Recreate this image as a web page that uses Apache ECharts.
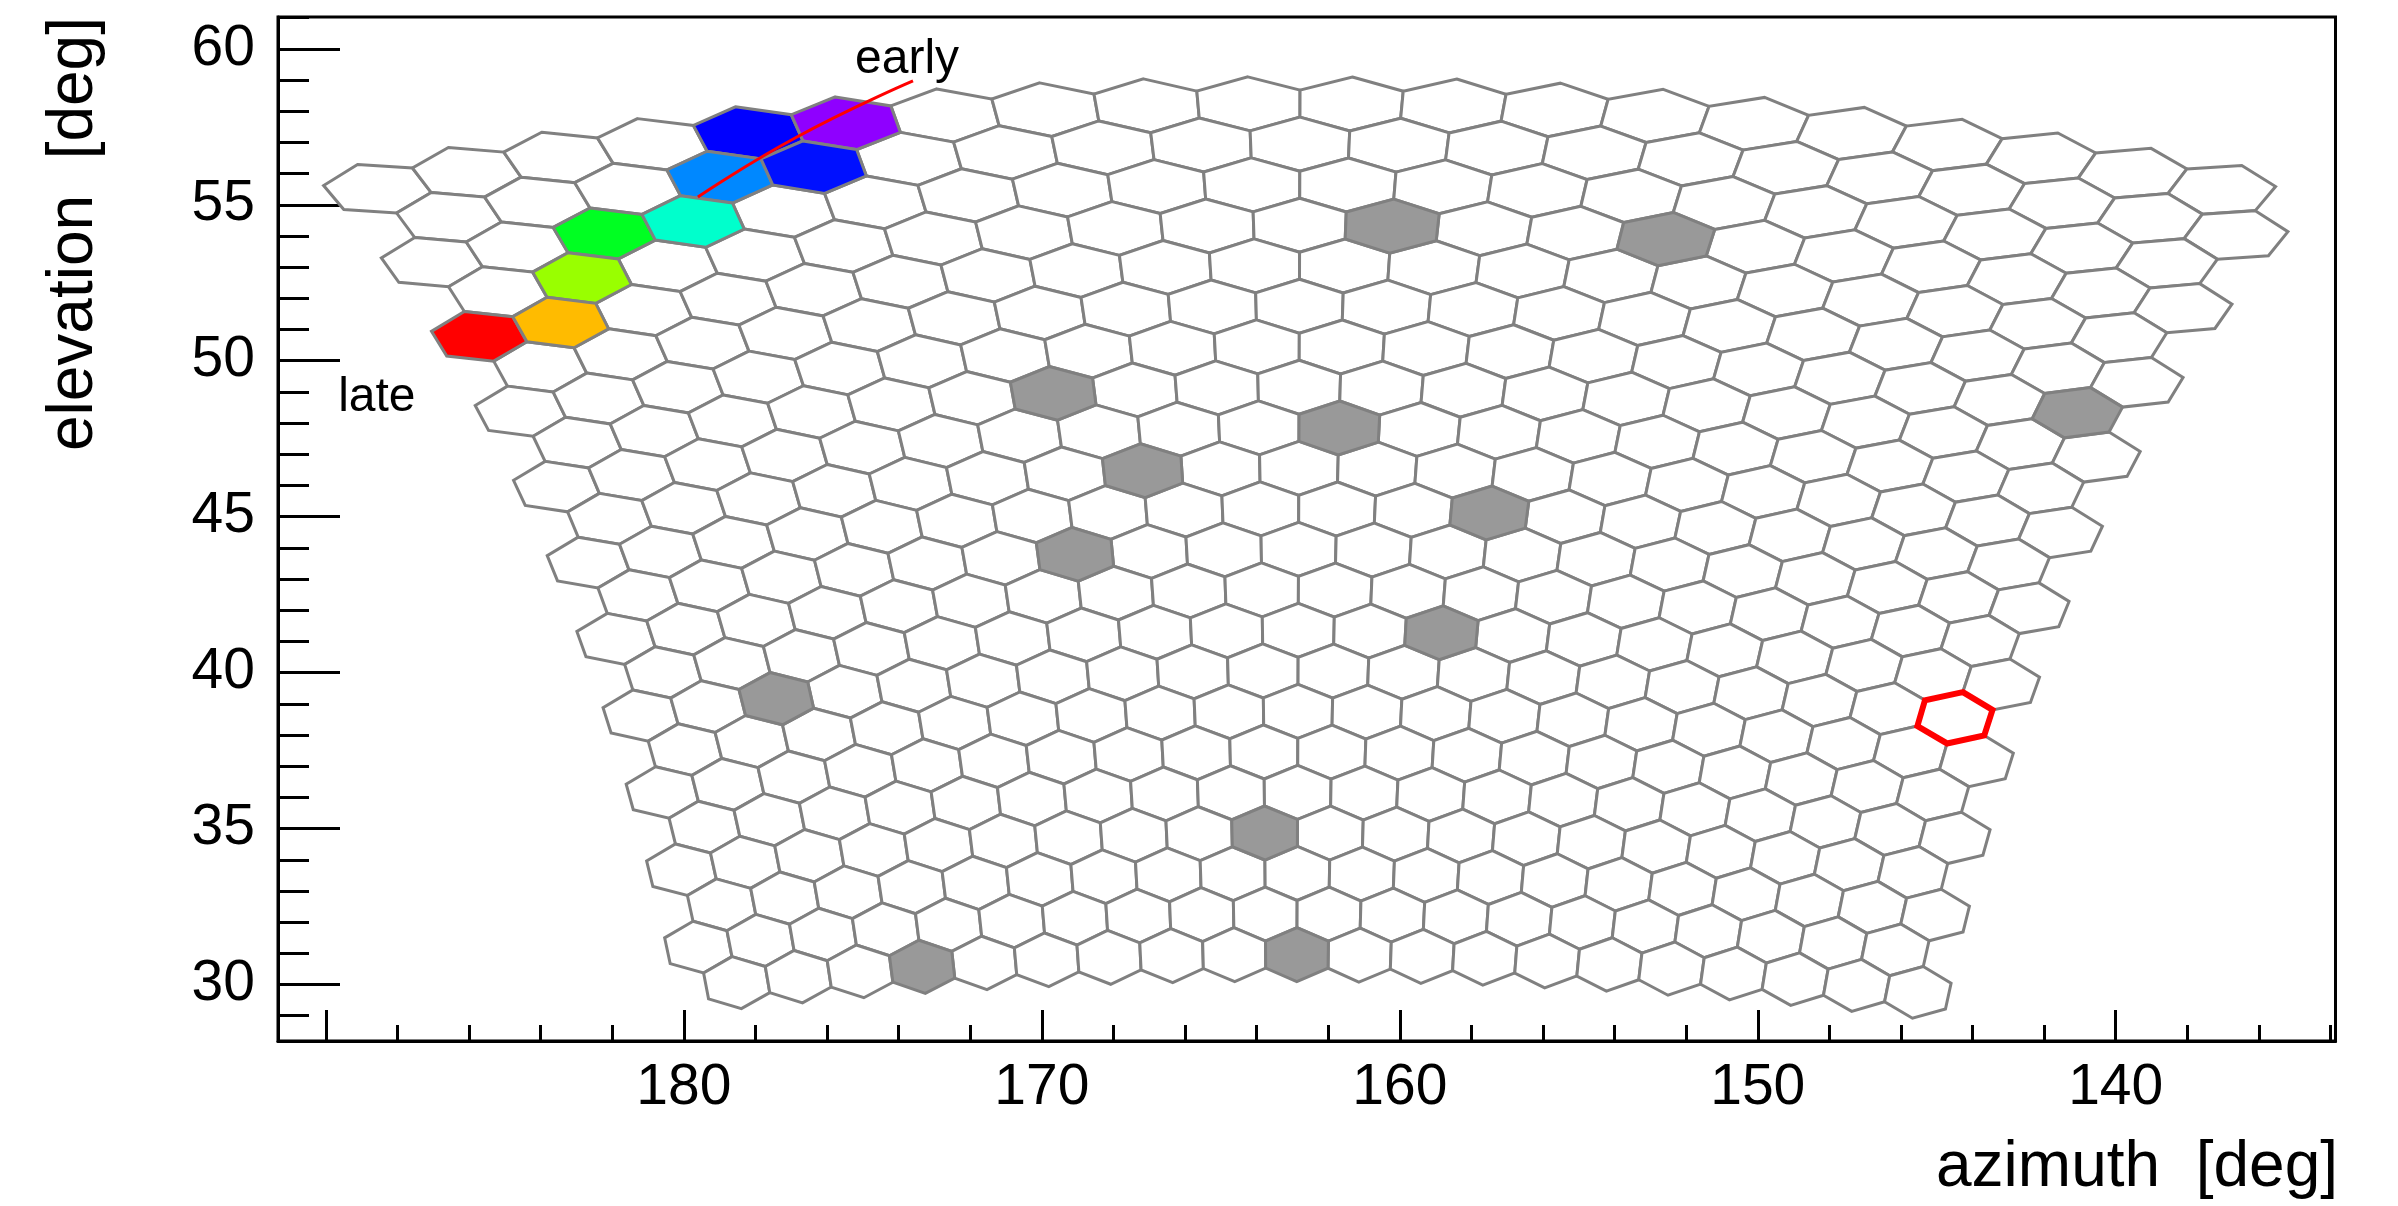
<!DOCTYPE html>
<html>
<head>
<meta charset="utf-8">
<script src="https://cdn.jsdelivr.net/npm/echarts@6/dist/echarts.min.js"></script>
<style>
html,body{margin:0;padding:0;background:#ffffff;}
#chart{width:2398px;height:1206px;}
</style>
</head>
<body>
<div id="chart"></div>
<script>
// ---------------- data ----------------
const CAMERA_ROWS = 22;
const CAMERA_COLS = 20;
// camera pointing / pixel pitch (deg) as fitted to the picture
const cameraAzimuth = 162.3;
const cameraElevation = 44.6;
const cameraRoll = 0.5;
const pixelPitch = 1.5;

// pixels flagged as bad (grey), [row, column], row 0 = top row
const badPixels = [[3,10],[3,13],[6,19],[7,6],[8,10],[9,7],[10,12],[11,6],[13,11],[14,2],[18,9],[21,3],[21,9]];
// triggered pixels in time order (early -> late), [row, column, colour]
const pulsePixels = [
  [0,5,'#8f00ff'],
  [0,4,'#0000ff'],
  [1,4,'#0010ff'],
  [1,3,'#0088ff'],
  [2,3,'#00ffcc'],
  [2,2,'#00ff22'],
  [3,1,'#99ff00'],
  [4,1,'#ffbb00'],
  [4,0,'#ff0000']
];
// pixel outlined in red
const markedPixels = [[14,19]];

// reconstructed track (azimuth, elevation)
const trackAz = [179.61, 176.83, 173.60];
const trackEl = [55.25, 57.18, 58.97];

// annotation texts (left / baseline anchor in azimuth, elevation)
const noteTexts = ['early', 'late'];
const noteAz = [175.22, 189.66];
const noteEl = [59.16, 48.32];

// axes
const xRange = [133.86, 191.34];
const yRange = [28.19, 61.02];
const xMajorTicks = [140,150,160,170,180,190];
const xTickLabels = [140,150,160,170,180];
const xMinorTicks = [134,136,138,140,142,144,146,148,150,152,154,156,158,160,162,164,166,168,170,172,174,176,178,180,182,184,186,188,190];
const yMajorTicks = [30,35,40,45,50,55,60];
const yTickLabels = [30,35,40,45,50,55,60];
const yMinorTicks = [29,30,31,32,33,34,35,36,37,38,39,40,41,42,43,44,45,46,47,48,49,50,51,52,53,54,55,56,57,58,59,60,61];
const xTitle = 'azimuth  [deg]';
const yTitle = 'elevation  [deg]';

// ---------------- geometry ----------------
const D2R = Math.PI / 180;
const FONT = "'Liberation Sans', Arial, Helvetica, sans-serif";
const HEX_R = pixelPitch / Math.sqrt(3);

function cameraToSky(u, v) {
  const ur = u * D2R, vr = v * D2R;
  const x = Math.cos(ur) * Math.cos(vr);
  const y = Math.sin(ur);
  const z = Math.cos(ur) * Math.sin(vr);
  const r = cameraRoll * D2R;
  const y2 = y * Math.cos(r) + z * Math.sin(r);
  const z2 = z * Math.cos(r) - y * Math.sin(r);
  const e = cameraElevation * D2R;
  const X = x * Math.cos(e) - z2 * Math.sin(e);
  const Z = x * Math.sin(e) + z2 * Math.cos(e);
  return [cameraAzimuth - Math.atan2(y2, X) / D2R, Math.asin(Z) / D2R];
}
function pixelCenterUV(r, c) {
  const v = ((CAMERA_ROWS - 1) / 2 - r) * pixelPitch * Math.sqrt(3) / 2;
  const u = (c - (CAMERA_COLS - 1) / 2) * pixelPitch + (r % 2 === 0 ? -pixelPitch / 4 : pixelPitch / 4);
  return [u, v];
}
function hexPoints(api, r, c) {
  const uv = pixelCenterUV(r, c);
  const pts = [];
  for (let k = 0; k < 6; k++) {
    const t = k * Math.PI / 3;
    pts.push(api.coord(cameraToSky(uv[0] + HEX_R * Math.sin(t), uv[1] + HEX_R * Math.cos(t))));
  }
  return pts;
}

const fillOf = {};
badPixels.forEach(p => { fillOf[p[0] + ',' + p[1]] = '#999999'; });
pulsePixels.forEach(p => { fillOf[p[0] + ',' + p[1]] = p[2]; });

const plainData = [], flaggedData = [];
for (let r = 0; r < CAMERA_ROWS; r++) {
  for (let c = 0; c < CAMERA_COLS; c++) {
    const uv = pixelCenterUV(r, c);
    const s = cameraToSky(uv[0], uv[1]);
    (fillOf[r + ',' + c] ? flaggedData : plainData).push([s[0], s[1], r, c]);
  }
}
const markedData = markedPixels.map(p => {
  const uv = pixelCenterUV(p[0], p[1]);
  const s = cameraToSky(uv[0], uv[1]);
  return [s[0], s[1], p[0], p[1]];
});

function pixelRenderer(params, api) {
  const r = api.value(2), c = api.value(3);
  return {
    type: 'polygon',
    shape: { points: hexPoints(api, r, c) },
    style: { fill: fillOf[r + ',' + c] || '#ffffff', stroke: '#808080', lineWidth: 3, lineJoin: 'miter' }
  };
}

const chart = echarts.init(document.getElementById('chart'), null, { renderer: 'canvas' });

const axisCommon = {
  type: 'value',
  splitLine: { show: false }
};

chart.setOption({
  backgroundColor: '#ffffff',
  animation: false,
  grid: { left: 278, right: 62.5, top: 17, bottom: 165, show: true, borderColor: '#000000', borderWidth: 3, backgroundColor: 'transparent' },
  xAxis: [
    Object.assign({}, axisCommon, {
      inverse: true, min: xRange[0], max: xRange[1], position: 'bottom',
      axisLine: { show: true, onZero: false, lineStyle: { color: '#000', width: 3 } },
      axisTick: { show: true, inside: true, length: 31, customValues: xMajorTicks, lineStyle: { color: '#000', width: 3 } },
      axisLabel: { show: true, customValues: xTickLabels, margin: 19, color: '#000', fontSize: 57, fontFamily: FONT }
    }),
    Object.assign({}, axisCommon, {
      inverse: true, min: xRange[0], max: xRange[1], position: 'bottom',
      axisLine: { show: false, onZero: false },
      axisTick: { show: true, inside: true, length: 16, customValues: xMinorTicks, lineStyle: { color: '#000', width: 3 } },
      axisLabel: { show: false }
    })
  ],
  yAxis: [
    Object.assign({}, axisCommon, {
      min: yRange[0], max: yRange[1], position: 'left',
      axisLine: { show: true, onZero: false, lineStyle: { color: '#000', width: 3 } },
      axisTick: { show: true, inside: true, length: 62, customValues: yMajorTicks, lineStyle: { color: '#000', width: 3 } },
      axisLabel: { show: true, customValues: yTickLabels, margin: 23, color: '#000', fontSize: 57, fontFamily: FONT }
    }),
    Object.assign({}, axisCommon, {
      min: yRange[0], max: yRange[1], position: 'left',
      axisLine: { show: false, onZero: false },
      axisTick: { show: true, inside: true, length: 31, customValues: yMinorTicks, lineStyle: { color: '#000', width: 3 } },
      axisLabel: { show: false }
    })
  ],
  graphic: [
    { type: 'text', x: 2338, y: 1200, style: { text: xTitle, font: '64px ' + FONT, fill: '#000', align: 'right', verticalAlign: 'bottom' } },
    { type: 'text', x: 106, y: 17, rotation: Math.PI / 2, style: { text: yTitle, font: '64px ' + FONT, fill: '#000', align: 'right', verticalAlign: 'bottom' } }
  ],
  series: [
    { type: 'custom', xAxisIndex: 0, yAxisIndex: 0, silent: true, z: 2, data: plainData, renderItem: pixelRenderer },
    { type: 'custom', xAxisIndex: 0, yAxisIndex: 0, silent: true, z: 3, data: flaggedData, renderItem: pixelRenderer },
    { type: 'custom', xAxisIndex: 0, yAxisIndex: 0, silent: true, z: 4, data: markedData,
      renderItem: function (params, api) {
        return { type: 'polygon', shape: { points: hexPoints(api, api.value(2), api.value(3)) },
          style: { fill: 'none', stroke: '#ff0000', lineWidth: 6, lineJoin: 'miter' } };
      } },
    { type: 'line', xAxisIndex: 0, yAxisIndex: 0, silent: true, z: 5, smooth: true, showSymbol: false, symbol: 'none',
      data: trackAz.map((a, i) => [a, trackEl[i]]),
      lineStyle: { color: '#ff0000', width: 3 } },
    { type: 'custom', xAxisIndex: 0, yAxisIndex: 0, silent: true, z: 6,
      data: noteTexts.map((t, i) => [noteAz[i], noteEl[i], i]),
      renderItem: function (params, api) {
        const p = api.coord([api.value(0), api.value(1)]);
        return { type: 'text', x: p[0], y: p[1] + 9,
          style: { text: noteTexts[api.value(2)], font: '48px ' + FONT, fill: '#000', align: 'left', verticalAlign: 'bottom' } };
      } }
  ]
});
</script>
</body>
</html>
